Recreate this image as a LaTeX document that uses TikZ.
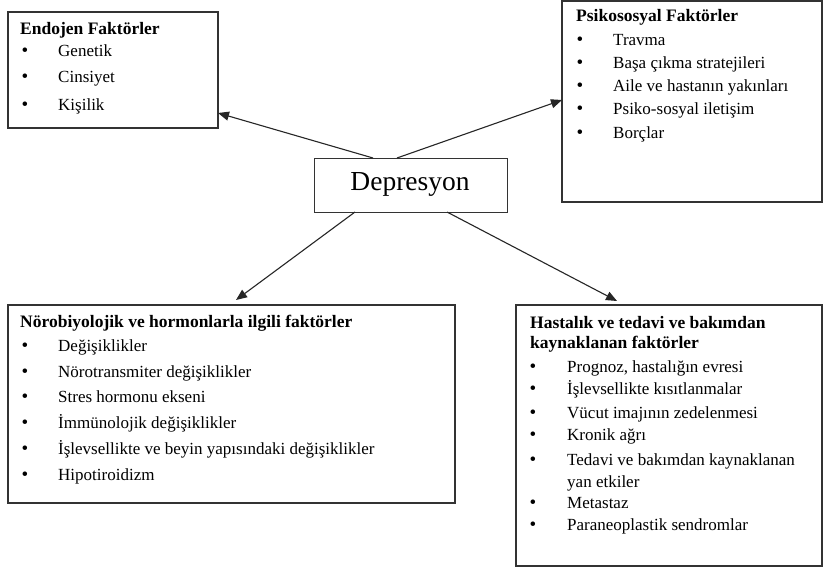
\documentclass[tikz,border=0pt]{standalone}
\usepackage{fontspec}
\setmainfont{Liberation Serif}
\usetikzlibrary{arrows.meta,calc}
\begin{document}
\begin{tikzpicture}[x=1pt,y=-1pt,
  box/.style={draw=black!80,line width=1.1pt,anchor=north west,inner sep=0pt,outer sep=0pt},
  dbox/.style={draw=black!80,line width=0.9pt,anchor=north west,inner sep=0pt,outer sep=0pt},
  ttl/.style={anchor=base west,inner sep=0pt,font=\fontsize{17.5}{20}\selectfont\bfseries},
  itm/.style={anchor=base west,inner sep=0pt,font=\fontsize{17}{20}\selectfont},
  bul/.style={anchor=base,inner sep=0pt,font=\fontsize{19}{20}\selectfont},
  arr/.style={draw=black!85,line width=1.1pt,-{Triangle[length=11pt,width=9pt]}}]
\useasboundingbox[fill=white] (0,0) rectangle (827,569);
% boxes
\node[box,minimum width=210pt,minimum height=116pt] (endo) at (8,12) {};
\node[box,minimum width=260pt,minimum height=201pt] (psy) at (562,1) {};
\node[dbox,minimum width=193pt,minimum height=54pt] (dep) at (314,158) {};
\node[box,minimum width=447pt,minimum height=198pt] (neuro) at (8,305) {};
\node[box,minimum width=306pt,minimum height=261pt] (hast) at (516,305) {};
% center text
\node[anchor=base,inner sep=0pt,font=\fontsize{27.5}{30}\selectfont] (deptxt) at (410,191) {Depresyon};
% Endojen
\node[ttl] (et) at (20,35) {Endojen Faktörler};
\foreach \t/\y [count=\i] in {Genetik/57,Cinsiyet/83,Kişilik/111}{
  \node[bul] (eb\i) at (25,\y) {\textbullet};
  \node[itm] (ei\i) at (58,\y) {\t};
}
% Psikososyal
\node[ttl] (pt) at (576,22) {Psikososyal Faktörler};
\foreach \t/\y [count=\i] in {Travma/46,Başa çıkma stratejileri/69,Aile ve hastanın yakınları/92,Psiko-sosyal iletişim/115,Borçlar/139}{
  \node[bul] (pb\i) at (580,\y) {\textbullet};
  \node[itm] (pi\i) at (613,\y) {\t};
}
% Norobiyolojik
\node[ttl] (nt) at (20,327) {Nörobiyolojik ve hormonlarla ilgili faktörler};
\foreach \t/\y [count=\i] in {Değişiklikler/351,Nörotransmiter değişiklikler/377,Stres hormonu ekseni/402,İmmünolojik değişiklikler/428,İşlevsellikte ve beyin yapısındaki değişiklikler/454,Hipotiroidizm/480}{
  \node[bul] (nb\i) at (25,\y) {\textbullet};
  \node[itm] (ni\i) at (58,\y) {\t};
}
% Hastalik
\node[ttl] (ht1) at (530,328) {Hastalık ve tedavi ve bakımdan};
\node[ttl] (ht2) at (530,348) {kaynaklanan faktörler};
\foreach \t/\y [count=\i] in {Prognoz{,} hastalığın evresi/372,İşlevsellikte kısıtlanmalar/394,Vücut imajının zedelenmesi/418,Kronik ağrı/440,Tedavi ve bakımdan kaynaklanan/465,Metastaz/508,Paraneoplastik sendromlar/530}{
  \node[bul] (hb\i) at (533,\y) {\textbullet};
  \node[itm] (hi\i) at (567,\y) {\t};
}
\node[itm] (hi5b) at (567,487) {yan etkiler};
% arrows
\draw[arr] (dep.north -| 373,0) -- (endo.east |- 0,113);
\draw[arr] (dep.north -| 397,0) -- (psy.west |- 0,100);
\draw[arr] (dep.south -| 355,0) -- (236,300);
\draw[arr] (dep.south -| 447,0) -- (617,301);
\end{tikzpicture}
\end{document}
